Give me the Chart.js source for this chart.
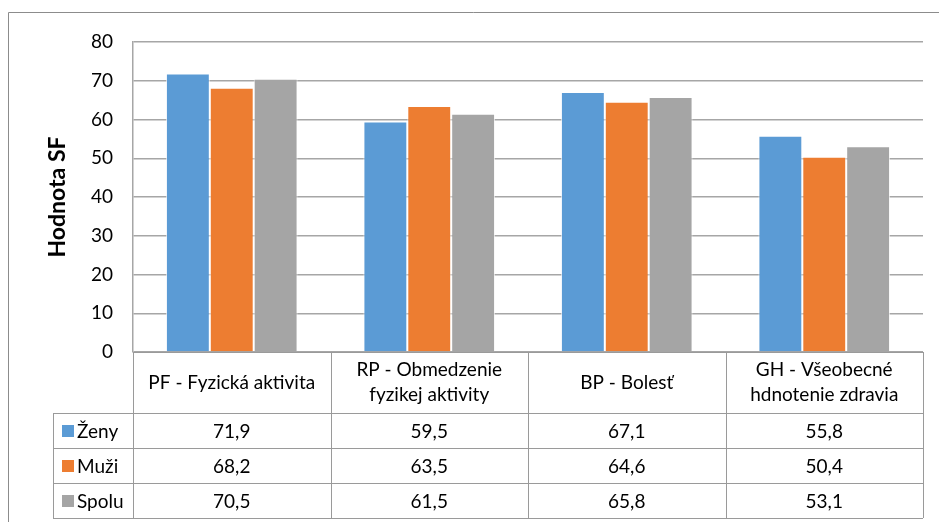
<!DOCTYPE html>
<html>
<head>
<meta charset="utf-8">
<script src="https://cdn.jsdelivr.net/npm/chart.js@4/dist/chart.umd.min.js"></script>
<style>
  html, body { margin: 0; padding: 0; background: #fff; }
  #wrap { width: 939px; height: 522px; position: relative; }
</style>
</head>
<body>
<div id="wrap"><canvas id="c"></canvas></div>
<script>
// SF-36 domains (multi-line where the table cell wraps)
const categories = [
  ['PF - Fyzická aktivita'],
  ['RP - Obmedzenie', 'fyzikej aktivity'],
  ['BP - Bolesť'],
  ['GH - Všeobecné', 'hdnotenie zdravia']
];
const zeny  = [71.9, 59.5, 67.1, 55.8];
const muzi  = [68.2, 63.5, 64.6, 50.4];
const spolu = [70.5, 61.5, 65.8, 53.1];
const seriesNames = ['Ženy', 'Muži', 'Spolu'];
const seriesColors = ['#5B9BD5', '#ED7D31', '#A5A5A5'];
const yMin = 0, yMax = 80, yStep = 10;
const yTitle = 'Hodnota SF';

const FONT = 'Lato, "Open Sans", sans-serif';
const LINE = '#a6a6a6';
const TABLE_LINE = '#9a9a9a';

const fmt = v => v.toFixed(1).replace('.', ',');

// Draws the outer frame, the axis title and the data table under the plot
const tablePlugin = {
  id: 'dataTable',
  afterDraw(chart) {
    const ctx = chart.ctx;
    const area = chart.chartArea;
    const xs = chart.scales.x;
    const half = (xs.getPixelForValue(1) - xs.getPixelForValue(0)) / 2;
    const n = categories.length;
    const edges = [];
    for (let i = 0; i < n; i++) edges.push(xs.getPixelForValue(i) - half);
    edges.push(xs.getPixelForValue(n - 1) + half);

    const top = area.bottom;
    const headerH = 61;
    const rowH = 35;
    const legendLeft = 53;
    const bottom = top + headerH + rowH * seriesNames.length;

    ctx.save();
    // outer chart frame
    ctx.strokeStyle = '#8c8c8c';
    ctx.lineWidth = 1;
    ctx.beginPath();
    ctx.moveTo(8.5, chart.height);
    ctx.lineTo(8.5, 12.5);
    ctx.lineTo(chart.width, 12.5);
    ctx.stroke();

    // y axis title
    ctx.fillStyle = '#000';
    ctx.font = 'bold 23px ' + FONT;
    ctx.textAlign = 'center';
    ctx.textBaseline = 'middle';
    ctx.translate(58, (area.top + area.bottom) / 2);
    ctx.rotate(-Math.PI / 2);
    ctx.fillText(yTitle, 0, 0);
    ctx.restore();

    ctx.save();
    ctx.strokeStyle = TABLE_LINE;
    ctx.lineWidth = 1;
    const px = v => Math.round(v) + 0.5;
    ctx.beginPath();
    // vertical lines
    edges.forEach(x => { ctx.moveTo(px(x), top); ctx.lineTo(px(x), bottom); });
    ctx.moveTo(px(legendLeft), top + headerH);
    ctx.lineTo(px(legendLeft), bottom);
    // horizontal lines
    ctx.moveTo(edges[0], px(top));
    ctx.lineTo(edges[n], px(top));
    for (let r = 0; r <= seriesNames.length; r++) {
      const y = px(top + headerH + r * rowH);
      ctx.moveTo(legendLeft, y);
      ctx.lineTo(edges[n], y);
    }
    ctx.stroke();

    ctx.fillStyle = '#000';
    ctx.font = '19px ' + FONT;
    ctx.textAlign = 'center';
    ctx.textBaseline = 'middle';
    // category headers
    categories.forEach((lines, i) => {
      const cx = (edges[i] + edges[i + 1]) / 2;
      const cy = top + headerH / 2;
      const lh = 25;
      lines.forEach((t, k) => {
        ctx.fillText(t, cx, cy + (k - (lines.length - 1) / 2) * lh);
      });
    });
    // series rows
    const rows = [zeny, muzi, spolu];
    rows.forEach((vals, r) => {
      const cy = top + headerH + r * rowH + rowH / 2;
      ctx.fillStyle = seriesColors[r];
      ctx.fillRect(62, Math.round(cy - 6), 12, 12);
      ctx.fillStyle = '#000';
      ctx.textAlign = 'left';
      ctx.fillText(seriesNames[r], 77, cy + 1);
      ctx.textAlign = 'center';
      vals.forEach((v, i) => {
        ctx.fillText(fmt(v), (edges[i] + edges[i + 1]) / 2, cy + 1);
      });
    });
    ctx.restore();
  }
};

new Chart(document.getElementById('c'), {
  type: 'bar',
  data: {
    labels: categories.map(c => c.join(' ')),
    datasets: [
      { label: seriesNames[0], data: zeny,  backgroundColor: seriesColors[0] },
      { label: seriesNames[1], data: muzi,  backgroundColor: seriesColors[1] },
      { label: seriesNames[2], data: spolu, backgroundColor: seriesColors[2] }
    ].map(d => Object.assign(d, {
      borderColor: 'rgba(255,255,255,0.7)',
      borderWidth: 1,
      categoryPercentage: 3 / 4.5,
      barPercentage: 1
    }))
  },
  options: {
    responsive: true,
    maintainAspectRatio: false,
    animation: false,
    layout: { padding: { left: 0, right: 16, top: 42, bottom: 4 } },
    plugins: { legend: { display: false }, tooltip: { enabled: false } },
    scales: {
      x: {
        type: 'category',
        grid: { display: false, drawTicks: false },
        border: { display: false },
        ticks: { display: false },
        afterFit: s => { s.height = 166; }
      },
      y: {
        min: yMin,
        max: yMax,
        ticks: {
          stepSize: yStep,
          padding: 20,
          color: '#000',
          font: { family: FONT, size: 19 }
        },
        grid: { color: LINE, lineWidth: 1.5, drawTicks: false },
        border: { display: true, color: LINE, width: 1.5 },
        afterFit: s => { s.width = 133; }
      }
    }
  },
  plugins: [tablePlugin]
});
</script>
</body>
</html>
